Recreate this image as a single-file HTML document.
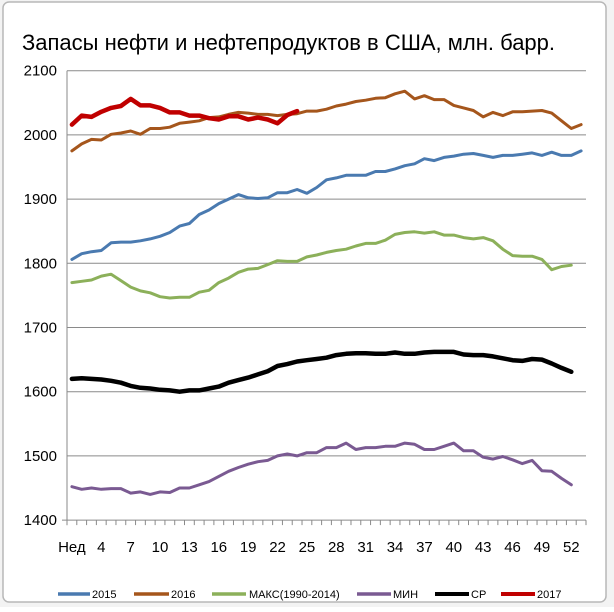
<!DOCTYPE html>
<html><head><meta charset="utf-8"><style>
html,body{margin:0;padding:0;background:#fff;}
body{width:614px;height:607px;overflow:hidden;position:relative;font-family:"Liberation Sans",sans-serif;}
</style></head><body>
<svg width="614" height="607" xmlns="http://www.w3.org/2000/svg" font-family="Liberation Sans, sans-serif">
<rect x="0" y="0" width="614" height="607" fill="#f3f3f3"/>
<rect x="3" y="2" width="603" height="600" rx="6" fill="#fff" stroke="#b8b8b8" stroke-width="1.5"/>
<text x="22" y="50" font-size="22" fill="#000">Запасы нефти и нефтепродуктов в США, млн. барр.</text>
<g id="grid" stroke="#8a8a8a" stroke-width="1"></g>
<g id="lines" fill="none" stroke-linejoin="round" stroke-linecap="round"></g>
<g id="labels" font-size="15" fill="#000"></g>
<g font-size="11" fill="#000">
<line x1="58" y1="594" x2="90" y2="594" stroke="#4a7ab0" stroke-width="3.5"/><text x="92" y="598">2015</text>
<line x1="134" y1="594" x2="169" y2="594" stroke="#a5561c" stroke-width="3.5"/><text x="171" y="598">2016</text>
<line x1="212" y1="594" x2="246" y2="594" stroke="#8cb05a" stroke-width="3.5"/><text x="249" y="598">МАКС(1990-2014)</text>
<line x1="357" y1="594" x2="391" y2="594" stroke="#7a5a92" stroke-width="3.5"/><text x="393" y="598">МИН</text>
<line x1="435" y1="594" x2="469" y2="594" stroke="#000" stroke-width="4"/><text x="471" y="598">СР</text>
<line x1="501" y1="594" x2="535" y2="594" stroke="#c00000" stroke-width="4"/><text x="537" y="598">2017</text>
</g>
</svg>
<script>
const NS="http://www.w3.org/2000/svg";
const L=67,R=586,T=70.7,k=0.642;
const Y=v=>T+(2100-v)*k;
const X=i=>L+(i-0.5)*((R-L)/53);
const g=document.getElementById('grid'),ln=document.getElementById('lines'),lb=document.getElementById('labels');
function el(p,t,a){const e=document.createElementNS(NS,t);for(const q in a)e.setAttribute(q,a[q]);p.appendChild(e);return e;}
for(let v=1400;v<=2100;v+=100){
 if(v>1400) el(g,'line',{x1:L,x2:R,y1:Y(v),y2:Y(v)});
 const t=el(lb,'text',{x:57,y:Y(v)+5,'text-anchor':'end'});t.textContent=v;
}
el(g,'line',{x1:L,x2:L,y1:T,y2:Y(1400)+5});
el(g,'line',{x1:L-5,x2:R,y1:Y(1400),y2:Y(1400)});
for(let i=0;i<=53;i++){const x=L+i*(R-L)/53;el(g,'line',{x1:x,x2:x,y1:Y(1400),y2:Y(1400)+5});}
const lab=['Нед'];for(let w=4;w<=52;w+=3)lab.push(w);
lab.forEach((s,j)=>{const w=j==0?1:s;const t=el(lb,'text',{x:X(w),y:552,'text-anchor':'middle'});t.textContent=s;});
const D={
'#4a7ab0':[1806,1815,1818,1820,1832,1833,1833,1835,1838,1842,1848,1858,1862,1876,1883,1893,1900,1907,1902,1901,1902,1910,1910,1915,1909,1918,1930,1933,1937,1937,1937,1943,1943,1947,1952,1955,1963,1960,1965,1967,1970,1971,1968,1965,1968,1968,1970,1972,1968,1973,1968,1968,1975],
'#a5561c':[1975,1986,1993,1992,2001,2003,2006,2001,2010,2010,2012,2018,2020,2022,2027,2028,2032,2035,2034,2032,2032,2030,2032,2033,2037,2037,2040,2045,2048,2052,2054,2057,2058,2064,2068,2056,2061,2055,2055,2046,2042,2038,2028,2035,2030,2036,2036,2037,2038,2034,2022,2010,2016],
'#8cb05a':[1770,1772,1774,1780,1783,1773,1763,1757,1754,1748,1746,1747,1747,1755,1758,1770,1777,1786,1791,1792,1798,1804,1803,1803,1810,1813,1817,1820,1822,1827,1831,1831,1836,1845,1848,1849,1847,1849,1844,1844,1840,1838,1840,1835,1822,1812,1811,1811,1806,1790,1795,1797],
'#7a5a92':[1452,1448,1450,1448,1449,1449,1442,1444,1440,1444,1443,1450,1450,1455,1460,1468,1476,1482,1487,1491,1493,1500,1503,1500,1505,1505,1513,1513,1520,1510,1513,1513,1515,1515,1520,1518,1510,1510,1515,1520,1508,1508,1498,1495,1499,1494,1488,1493,1477,1476,1465,1455],
'#000':[1620,1621,1620,1619,1617,1614,1609,1606,1605,1603,1602,1600,1602,1602,1605,1608,1614,1618,1622,1627,1632,1640,1643,1647,1649,1651,1653,1657,1659,1660,1660,1659,1659,1661,1659,1659,1661,1662,1662,1662,1658,1657,1657,1655,1652,1649,1648,1651,1650,1644,1637,1631],
'#c00000':[2016,2030,2028,2036,2042,2045,2056,2046,2046,2042,2035,2035,2030,2030,2026,2024,2029,2029,2024,2027,2024,2018,2031,2037]};
for(const c in D){const w=(c=='#000'||c=='#c00000')?4.5:3;
 el(ln,'polyline',{stroke:c,'stroke-width':w,points:D[c].map((v,i)=>X(i+1).toFixed(1)+','+Y(v).toFixed(1)).join(' ')});}
</script>
</body></html>
